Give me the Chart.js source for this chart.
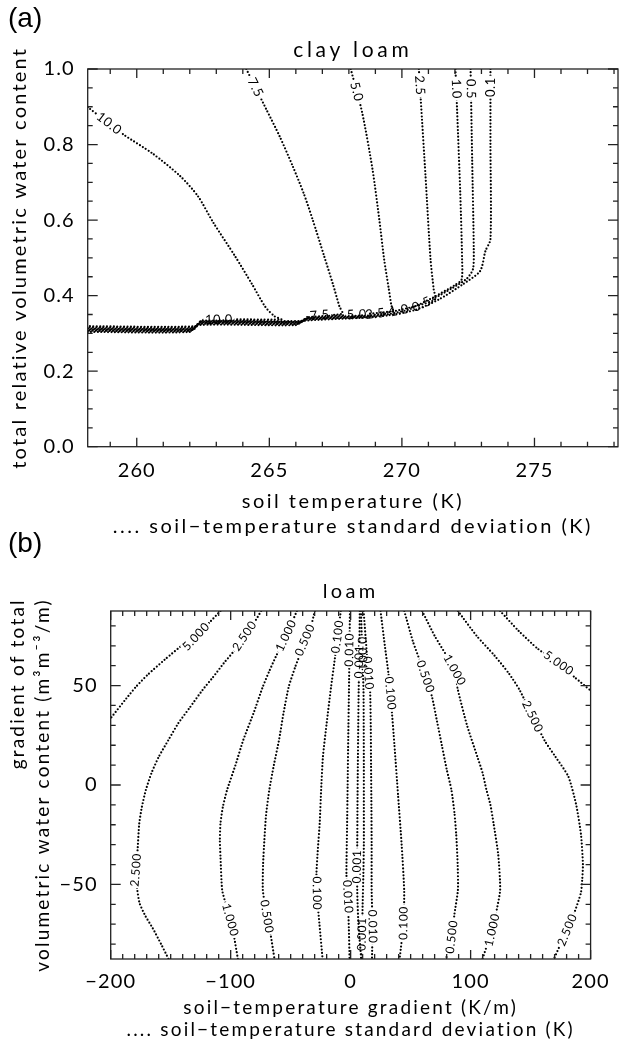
<!DOCTYPE html>
<html>
<head>
<meta charset="utf-8">
<script src="https://cdn.jsdelivr.net/npm/chart.js@4.4.1/dist/chart.umd.min.js"></script>
<style>
  body { margin: 0; background: #fff; }
  #page { position: relative; width: 619px; height: 1043px; overflow: hidden; }
  canvas { position: absolute; left: 0; }
  .tag { position: absolute; left: 8px; font: 28px "Liberation Sans", Arial, sans-serif; color: #000; }
</style>
</head>
<body>
<div id="page">
  <canvas id="clayLoam" width="619" height="540" style="top:0"></canvas>
  <canvas id="loam" width="619" height="503" style="top:540px"></canvas>
  <div class="tag" style="top:2px">(a)</div>
  <div class="tag" style="top:527px">(b)</div>
</div>
<script>
// ---- (a) clay loam: water content vs soil temperature ----
const clayTempTicks = [260, 265, 270, 275];
const clayWaterTicks = [0.0, 0.2, 0.4, 0.6, 0.8, 1.0];
const clayLevels = ['10.0', '7.5', '5.0', '2.5', '1.0', '0.5', '0.1'];

const clay100 = [[258.15,0.899],[259.49,0.827],[260.6,0.776],[261.63,0.717],[262.3,0.664],[262.89,0.593],[263.71,0.504],[264.35,0.43],[264.85,0.37],[265.2,0.345],[265.45,0.337],[262.5,0.336],[262.2,0.319],[258.15,0.319]];
const clay75 = [[264.13,1.0],[264.88,0.894],[265.4,0.82],[265.88,0.743],[266.3,0.67],[266.63,0.602],[267.07,0.504],[267.4,0.43],[267.64,0.372],[267.75,0.352],[266.5,0.346],[266.2,0.333],[262.45,0.333],[262.15,0.316],[258.15,0.316]];
const clay50 = [[268.07,1.0],[268.5,0.885],[268.89,0.735],[269.15,0.6],[269.33,0.496],[269.5,0.42],[269.6,0.375],[269.65,0.36],[268.4,0.35],[266.5,0.343],[266.2,0.331],[262.45,0.331],[262.15,0.313],[258.15,0.313]];
const clay25 = [[270.64,1.0],[270.71,0.92],[270.89,0.717],[271.08,0.496],[271.2,0.416],[271.25,0.39],[270.5,0.372],[269.5,0.356],[268.4,0.347],[266.45,0.340],[266.15,0.329],[262.4,0.329],[262.1,0.311],[258.15,0.311]];
const clay10 = [[272.02,1.0],[272.08,0.894],[272.2,0.673],[272.27,0.496],[272.25,0.442],[272.0,0.428],[271.2,0.396],[270.4,0.369],[269.5,0.354],[268.4,0.345],[266.4,0.338],[266.1,0.327],[262.4,0.327],[262.1,0.309],[258.15,0.309]];
const clay05 = [[272.59,1.0],[272.65,0.76],[272.71,0.522],[272.68,0.47],[272.45,0.445],[271.9,0.42],[271.2,0.392],[270.4,0.366],[269.5,0.351],[268.4,0.343],[266.35,0.336],[266.05,0.325],[262.35,0.325],[262.05,0.307],[258.15,0.307]];
const clay01 = [[273.34,1.0],[273.34,0.8],[273.34,0.549],[273.15,0.518],[272.95,0.465],[272.3,0.43],[271.4,0.39],[270.5,0.362],[269.5,0.348],[268.4,0.341],[266.3,0.333],[266.0,0.322],[262.3,0.322],[262.0,0.304],[258.15,0.304]];
const clayContours = [clay100, clay75, clay50, clay25, clay10, clay05, clay01];

// where each contour carries its value
const clayLabelAt = [
  [[258.9,0.85],[263.1,0.336]],
  [[264.5,0.952],[266.9,0.348]],
  [[268.2,0.938],[268.3,0.35]],
  [[270.6,0.956],[269.0,0.353]],
  [[272.0,0.947],[269.9,0.36]],
  [[272.6,0.947],[270.8,0.37]],
  [[273.34,0.952]]
];

// ---- (b) loam: water-content gradient vs temperature gradient ----
const loamGradTicks = [-200, -100, 0, 100, 200];
const loamWaterTicks = [-50, 0, 50];
const loamLevels = ['5.000','2.500','1.000','0.500','0.100','0.010','0.001','0.001','0.010','0.100','0.500','1.000','2.500','5.000'];

const loam5L = [[-108.5,87.5],[-118,81.5],[-128.8,74.6],[-138.2,71.3],[-155,63],[-169.4,55.3],[-178.9,49.4],[-187,43.5],[-197.9,35.2],[-200,33.6]];
const loam25L = [[-74.6,87.5],[-80,82],[-86.8,76.3],[-95,69],[-105.8,61.2],[-115,54],[-123.4,47.8],[-134,39],[-143.7,31],[-152,22.5],[-159.9,14.2],[-166,6],[-170.7,-2.5],[-174,-11],[-176.2,-19.3],[-177.6,-32.7],[-178.9,-42.7],[-178,-52],[-175.9,-59.5],[-171,-66],[-165,-72],[-158,-80],[-151.8,-87.5]];
const loam1L = [[-44.8,87.5],[-51.6,78],[-57,71],[-62.4,64.5],[-68,57],[-73.2,49.4],[-81,36],[-89.5,22.6],[-96,10],[-103,-2.5],[-106.5,-11],[-108.5,-19.3],[-109,-28],[-108.5,-36],[-107.1,-52.8],[-104,-60],[-100.4,-67.9],[-97,-77],[-94,-87.5]];
const loam05L = [[-29.9,87.5],[-33,80],[-38,72.9],[-42,66],[-46.1,59.5],[-51.6,49.4],[-56,36],[-59.7,22.6],[-64,10],[-67.8,-2.5],[-70.5,-15],[-71.9,-27.6],[-73,-40],[-73.2,-52.8],[-71.5,-60],[-69.9,-66.2],[-66.5,-76],[-63.5,-87.5]];
const loam01L = [[-8.2,87.5],[-10.9,74.6],[-13.5,62],[-16.3,49.4],[-20,31],[-23.1,14.2],[-24.6,-2.5],[-25.8,-19.3],[-27.3,-32],[-28.5,-44.4],[-28.2,-54.5],[-26,-70],[-23.4,-87.5]];
const loam001L = [[-0.6,87.5],[-1,68],[-1.4,47.8],[-2,24],[-2.5,0],[-3,-22],[-3.5,-45],[-2.4,-56.2],[-1.5,-72],[-0.9,-87.5]];
const loam0001a = [[7.6,87.5],[7.3,68],[6.7,47.8],[6.3,28],[6.0,10],[5.7,-10],[5.5,-30],[5.3,-41],[5.6,-56],[6.5,-70],[8.8,-87.5]];
const loam0001b = [[8.6,87.5],[9.6,68],[10.7,47.8],[10.9,28],[11.0,10],[11.0,-10],[11.0,-30],[10.6,-45],[10.0,-60],[9.5,-75],[8.8,-87.5]];
const loam001R = [[10.8,87.5],[13,70],[14.7,56.2],[16.2,47.8],[16.8,28],[17.0,10],[17.3,-10],[17.5,-30],[17.5,-52.8],[18.2,-71.2],[17.8,-87.5]];
const loam01R = [[24.9,87.5],[28.5,70],[31.5,56],[33.8,41],[36.5,20],[39.5,-5],[42.5,-30],[44.6,-52.8],[44.1,-69.4],[40.8,-87.5]];
const loam05R = [[44.7,87.5],[52,72],[58,62],[62.3,54.5],[67.7,44.6],[72,32],[76,20],[80,8],[84,-2.5],[86.5,-14],[88,-25],[89.2,-40],[89.4,-52.8],[86.5,-65],[84.3,-76.3],[79.5,-87.5]];
const loam1R = [[59.6,87.5],[70,75],[80,65],[86.6,57.8],[89.4,47.8],[97,30],[105.6,14.2],[110,6],[113,-2],[116.5,-10],[119.1,-19.3],[123,-35],[124.6,-52.8],[121,-65],[118,-72.9],[114,-80],[109.9,-87.5]];
const loam25R = [[89.4,87.5],[105,75],[120,65],[132,56],[140.8,47.8],[151.6,34.4],[162,22],[170.7,14.2],[181.5,4.2],[188,-10],[192,-25],[193.6,-40],[193,-47.8],[191.9,-54.3],[186,-65],[180.6,-72.9],[175,-80],[169.4,-87.5]];
const loam5R = [[124.6,87.5],[140,77.5],[156,68.5],[173.4,61.2],[187,54],[200,47.5]];
const loamContours = [loam5L, loam25L, loam1L, loam05L, loam01L, loam001L, loam0001a, loam0001b, loam001R, loam01R, loam05R, loam1R, loam25R, loam5R];

const loamLabelAt = [
  [[-128.8,74.6]],
  [[-88.5,75],[-178.9,-42.7]],
  [[-53,75],[-100.4,-67.9]],
  [[-38,72.9],[-69.9,-66.2]],
  [[-10.9,74.6],[-28.2,-54.5]],
  [[-1.0,68],[-2.4,-56.2]],
  [[7.3,62],[5.3,-41]],
  [[9.8,66],[9.5,-75]],
  [[14.7,56.2],[18.2,-71.2]],
  [[33,46],[44.1,-69.4]],
  [[62.3,54.5],[84.3,-76.3]],
  [[86.6,57.8],[118,-72.9]],
  [[151.6,34.4],[180.6,-72.9]],
  [[173.4,61.2]]
];

const FONT = 'Lato, "DejaVu Sans", sans-serif';
const WEIGHT = '400';
Chart.defaults.font.family = FONT;
Chart.defaults.font.weight = WEIGHT;
Chart.defaults.color = '#000';

const minus = v => (v < 0 ? '\u2212' + Math.abs(v) : String(v));

function dotted(levels, contours, tension) {
  return contours.map((pts, i) => ({
    label: levels[i],
    data: pts.map(p => ({ x: p[0], y: p[1] })),
    showLine: true,
    pointRadius: 0,
    borderColor: '#000',
    borderWidth: 2.2,
    borderDash: [0, 3.4],
    borderCapStyle: 'round',
    tension: tension
  }));
}

function drawText(ctx, t, x, y, size, spacing, rot, align) {
  ctx.save();
  ctx.font = WEIGHT + ' ' + size + 'px ' + FONT;
  ctx.letterSpacing = spacing + 'px';
  ctx.fillStyle = '#000';
  ctx.textAlign = align || 'center';
  ctx.textBaseline = 'middle';
  ctx.translate(x, y);
  if (rot) ctx.rotate(rot);
  ctx.fillText(t, 0, 0);
  ctx.restore();
}

// contour value labels laid along the line, with a gap cut in the line underneath
function contourLabels(labelAt, size) {
  const font = '400 ' + size + 'px ' + FONT;
  function place(chart, i) {
    const sx = chart.scales.x, sy = chart.scales.y, ctx = chart.ctx;
    const ds = chart.data.datasets[i];
    const pts = ds.data.map(p => [sx.getPixelForValue(p.x), sy.getPixelForValue(p.y)]);
    ctx.save();
    ctx.font = font;
    ctx.letterSpacing = '0.6px';
    const w = ctx.measureText(ds.label).width + 3;
    ctx.restore();
    return (labelAt[i] || []).map(([lx, ly]) => {
      const qx = sx.getPixelForValue(lx), qy = sy.getPixelForValue(ly);
      let best = null;
      for (let k = 0; k < pts.length - 1; k++) {
        const [x0, y0] = pts[k], [x1, y1] = pts[k + 1];
        const dx = x1 - x0, dy = y1 - y0, l2 = dx * dx + dy * dy || 1;
        const t = Math.max(0, Math.min(1, ((qx - x0) * dx + (qy - y0) * dy) / l2));
        const px = x0 + t * dx, py = y0 + t * dy;
        const d = (px - qx) ** 2 + (py - qy) ** 2;
        if (!best || d < best.d) best = { d, px, py, ang: Math.atan2(dy, dx) };
      }
      let ang = best.ang;
      if (ang >= Math.PI / 2) ang -= Math.PI;
      else if (ang < -Math.PI / 2) ang += Math.PI;
      return { x: best.px, y: best.py, ang, w, h: size * 0.8, text: ds.label };
    });
  }
  return {
    id: 'contourLabels',
    beforeDatasetDraw(chart, args) {
      const ctx = chart.ctx;
      ctx.save();
      ctx.beginPath();
      ctx.rect(0, 0, chart.width, chart.height);
      place(chart, args.index).forEach(b => {
        const c = Math.cos(b.ang), s = Math.sin(b.ang);
        const corners = [[-b.w / 2, -b.h / 2], [b.w / 2, -b.h / 2], [b.w / 2, b.h / 2], [-b.w / 2, b.h / 2]];
        corners.forEach(([u, v], n) => {
          const X = b.x + u * c - v * s, Y = b.y + u * s + v * c;
          n ? ctx.lineTo(X, Y) : ctx.moveTo(X, Y);
        });
        ctx.closePath();
      });
      ctx.clip('evenodd');
    },
    afterDatasetDraw(chart) {
      chart.ctx.restore();
    },
    afterDatasetsDraw(chart) {
      const ctx = chart.ctx, a = chart.chartArea;
      ctx.save();
      ctx.beginPath();
      ctx.rect(a.left, a.top, a.right - a.left, a.bottom - a.top);
      ctx.clip();
      ctx.fillStyle = '#000';
      ctx.font = font;
      ctx.letterSpacing = '0.6px';
      ctx.textAlign = 'center';
      ctx.textBaseline = 'middle';
      chart.data.datasets.forEach((ds, i) => {
        place(chart, i).forEach(b => {
          ctx.save();
          ctx.translate(b.x, b.y);
          ctx.rotate(b.ang);
          ctx.fillText(b.text, 0, 0);
          ctx.restore();
        });
      });
      ctx.restore();
    }
  };
}

// plot frame with inward ticks on all four sides, panel title and axis titles
function frameTicks(spec) {
  function each(min, max, minor, major, fn) {
    for (let k = Math.ceil(min / minor - 1e-9); k * minor <= max + 1e-9; k++) {
      const v = k * minor;
      fn(v, Math.abs(v / major - Math.round(v / major)) < 1e-6);
    }
  }
  return {
    id: 'frameTicks',
    beforeDraw(chart) {
      chart.ctx.letterSpacing = spec.tickSpacing + 'px';
    },
    beforeDatasetsDraw(chart) {
      chart.ctx.letterSpacing = '0px';
    },
    afterDraw(chart) {
      const { ctx, chartArea: a } = chart;
      const sx = chart.scales.x, sy = chart.scales.y;
      ctx.save();
      ctx.strokeStyle = '#222';
      ctx.lineWidth = 1.3;
      ctx.strokeRect(a.left, a.top, a.right - a.left, a.bottom - a.top);
      ctx.beginPath();
      each(sx.min, sx.max, spec.xMinor, spec.xMajor, (v, major) => {
        const p = sx.getPixelForValue(v), len = major ? 9 : 5;
        ctx.moveTo(p, a.bottom); ctx.lineTo(p, a.bottom - len);
        ctx.moveTo(p, a.top); ctx.lineTo(p, a.top + len);
      });
      each(sy.min, sy.max, spec.yMinor, spec.yMajor, (v, major) => {
        const p = sy.getPixelForValue(v), len = major ? 10 : 5;
        ctx.moveTo(a.left, p); ctx.lineTo(a.left + len, p);
        ctx.moveTo(a.right, p); ctx.lineTo(a.right - len, p);
      });
      ctx.stroke();
      ctx.restore();

      const cx = (a.left + a.right) / 2, cy = (a.top + a.bottom) / 2;
      const f = spec.fontSize, sp = spec.titleSpacing, ysp = spec.yTitleSpacing;
      drawText(ctx, spec.title, cx, spec.titleY, f + 1, sp + 1.2);
      spec.xTitle.forEach((t, n) => drawText(ctx, t, cx, spec.xTitleY[n], f, sp));
      // y title: last line centred on the plot, earlier lines end where it ends
      ctx.save();
      ctx.font = WEIGHT + ' ' + f + 'px ' + FONT;
      ctx.letterSpacing = ysp + 'px';
      const last = spec.yTitle[spec.yTitle.length - 1];
      const endY = cy - ctx.measureText(last).width / 2;
      ctx.restore();
      spec.yTitle.forEach((t, n) => {
        const isLast = n === spec.yTitle.length - 1;
        drawText(ctx, t, spec.yTitleX[n], isLast ? cy : endY, f, ysp, -Math.PI / 2, isLast ? 'center' : 'right');
      });
    }
  };
}

const noChrome = { legend: { display: false }, tooltip: { enabled: false }, title: { display: false } };

new Chart(document.getElementById('clayLoam'), {
  type: 'scatter',
  data: { datasets: dotted(clayLevels, clayContours, 0.25) },
  options: {
    responsive: false,
    animation: false,
    layout: { padding: { top: 69, right: 1, left: 0, bottom: 0 } },
    plugins: noChrome,
    scales: {
      x: {
        type: 'linear', min: 258.15, max: 278.15,
        grid: { display: false, drawTicks: false }, border: { display: false },
        afterBuildTicks: s => { s.ticks = clayTempTicks.map(v => ({ value: v })); },
        afterFit: s => { s.height = 93.3; },
        ticks: { padding: 12, font: { size: 20 }, maxRotation: 0, autoSkip: false, callback: v => String(v) },
        title: { display: false }
      },
      y: {
        type: 'linear', min: 0, max: 1,
        grid: { display: false, drawTicks: false }, border: { display: false },
        afterBuildTicks: s => { s.ticks = clayWaterTicks.map(v => ({ value: v })); },
        afterFit: s => { s.width = 87.7; },
        ticks: { padding: 13, font: { size: 20 }, autoSkip: false, callback: v => v.toFixed(1) },
        title: { display: false }
      }
    }
  },
  plugins: [
    contourLabels(clayLabelAt, 13),
    frameTicks({
      xMinor: 1, xMajor: 5, yMinor: 0.05, yMajor: 0.2,
      fontSize: 20, titleSpacing: 2.5, yTitleSpacing: 2.2, tickSpacing: 1.1,
      title: 'clay loam', titleY: 50,
      xTitle: ['soil temperature (K)', '.... soil\u2212temperature standard deviation (K)'], xTitleY: [502, 527],
      yTitle: ['total relative volumetric water content'], yTitleX: [20]
    })
  ]
});

new Chart(document.getElementById('loam'), {
  type: 'scatter',
  data: { datasets: dotted(loamLevels, loamContours, 0.2) },
  options: {
    responsive: false,
    animation: false,
    layout: { padding: { top: 71, right: 16.2, left: 0, bottom: 0 } },
    plugins: noChrome,
    scales: {
      x: {
        type: 'linear', min: -200, max: 200,
        grid: { display: false, drawTicks: false }, border: { display: false },
        afterBuildTicks: s => { s.ticks = loamGradTicks.map(v => ({ value: v })); },
        afterFit: s => { s.height = 84; },
        ticks: { padding: 11, font: { size: 20 }, maxRotation: 0, autoSkip: false, callback: minus },
        title: { display: false }
      },
      y: {
        type: 'linear', min: -87.5, max: 87.5,
        grid: { display: false, drawTicks: false }, border: { display: false },
        afterBuildTicks: s => { s.ticks = loamWaterTicks.map(v => ({ value: v })); },
        afterFit: s => { s.width = 110.7; },
        ticks: { padding: 13, font: { size: 20 }, autoSkip: false, callback: minus },
        title: { display: false }
      }
    }
  },
  plugins: [
    contourLabels(loamLabelAt, 12),
    frameTicks({
      xMinor: 10, xMajor: 100, yMinor: 10, yMajor: 50,
      fontSize: 19, titleSpacing: 2.2, yTitleSpacing: 2.2, tickSpacing: 1.1,
      title: 'loam', titleY: 52,
      xTitle: ['soil\u2212temperature gradient (K/m)', '.... soil\u2212temperature standard deviation (K)'], xTitleY: [468, 490],
      yTitle: ['gradient of total', 'volumetric water content (m\u00b3m\u207b\u00b3/m)'], yTitleX: [18, 43]
    })
  ]
});
</script>
</body>
</html>
